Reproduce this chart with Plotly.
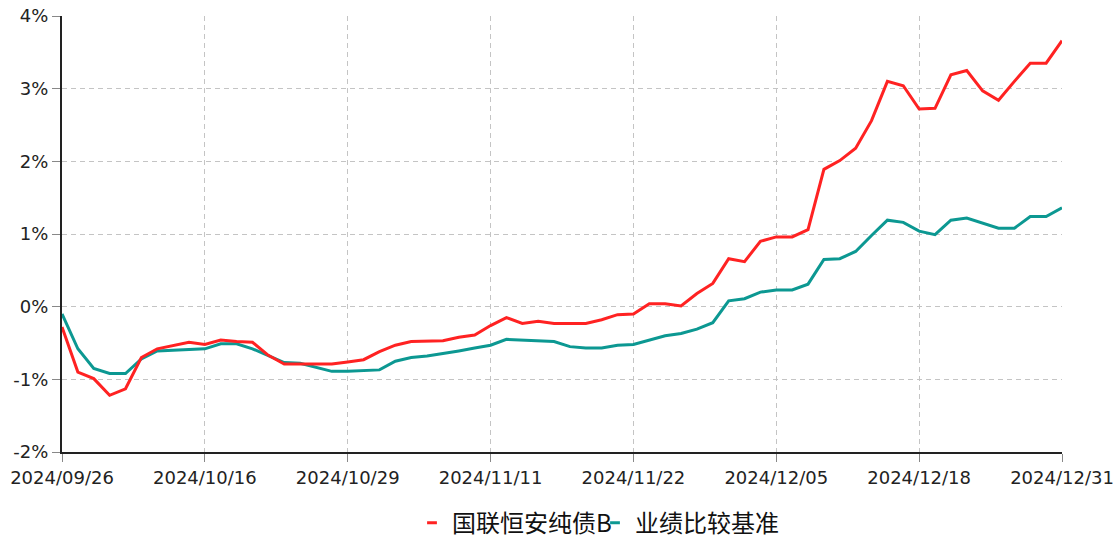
import plotly.graph_objects as go

dates = [
    "2024/09/26", "2024/09/27", "2024/09/30", "2024/10/08", "2024/10/09", "2024/10/10",
    "2024/10/11", "2024/10/14", "2024/10/15", "2024/10/16", "2024/10/17", "2024/10/18",
    "2024/10/21", "2024/10/22", "2024/10/23", "2024/10/24", "2024/10/25", "2024/10/28",
    "2024/10/29", "2024/10/30", "2024/10/31", "2024/11/01", "2024/11/04", "2024/11/05",
    "2024/11/06", "2024/11/07", "2024/11/08", "2024/11/11", "2024/11/12", "2024/11/13",
    "2024/11/14", "2024/11/15", "2024/11/18", "2024/11/19", "2024/11/20", "2024/11/21",
    "2024/11/22", "2024/11/25", "2024/11/26", "2024/11/27", "2024/11/28", "2024/11/29",
    "2024/12/02", "2024/12/03", "2024/12/04", "2024/12/05", "2024/12/06", "2024/12/09",
    "2024/12/10", "2024/12/11", "2024/12/12", "2024/12/13", "2024/12/16", "2024/12/17",
    "2024/12/18", "2024/12/19", "2024/12/20", "2024/12/23", "2024/12/24", "2024/12/25",
    "2024/12/26", "2024/12/27", "2024/12/30", "2024/12/31",
]

fund_name = "国联恒安纯债B"
bench_name = "业绩比较基准"

fund = [
    -0.28, -0.90, -0.99, -1.22, -1.13, -0.70, -0.58, -0.54, -0.49, -0.52,
    -0.46, -0.48, -0.49, -0.67, -0.79, -0.79, -0.79, -0.79, -0.76, -0.73,
    -0.62, -0.53, -0.48, -0.47, -0.47, -0.42, -0.39, -0.26, -0.15, -0.23,
    -0.20, -0.23, -0.23, -0.23, -0.18, -0.11, -0.10, 0.04, 0.04, 0.01,
    0.18, 0.32, 0.66, 0.62, 0.90, 0.96, 0.96, 1.06, 1.89, 2.01,
    2.18, 2.56, 3.10, 3.04, 2.72, 2.73, 3.19, 3.25, 2.97, 2.84,
    3.10, 3.35, 3.35, 3.66,
]

bench = [
    -0.10, -0.58, -0.85, -0.92, -0.92, -0.72, -0.61, -0.60, -0.60, -0.58,
    -0.51, -0.51, -0.58, -0.67, -0.77, -0.78, -0.83, -0.89, -0.89, -0.88,
    -0.87, -0.75, -0.70, -0.68, -0.65, -0.61, -0.57, -0.53, -0.45, -0.46,
    -0.47, -0.48, -0.55, -0.57, -0.57, -0.53, -0.52, -0.46, -0.40, -0.37,
    -0.31, -0.22, 0.08, 0.11, 0.20, 0.23, 0.23, 0.31, 0.65, 0.66,
    0.76, 0.98, 1.19, 1.16, 1.04, 0.99, 1.19, 1.22, 1.15, 1.08,
    1.08, 1.24, 1.24, 1.36,
]

tick_dates = ["2024/09/26", "2024/10/16", "2024/10/29", "2024/11/11",
              "2024/11/22", "2024/12/05", "2024/12/18", "2024/12/31"]
y_ticks = [-2, -1, 0, 1, 2, 3, 4]

RED = "#ff2222"
TEAL = "#0c9892"

fig = go.Figure()
fig.add_trace(go.Scatter(x=dates, y=bench, mode="lines", name=bench_name,
                         line=dict(color=TEAL, width=3), showlegend=False))
fig.add_trace(go.Scatter(x=dates, y=fund, mode="lines", name=fund_name,
                         line=dict(color=RED, width=3), showlegend=False))
# legend entries (small dash markers like the reference)
fig.add_trace(go.Scatter(x=[None], y=[None], mode="markers", name=fund_name,
                         legend="legend",
                         marker=dict(symbol="line-ew-open", size=7, color=RED,
                                     line=dict(color=RED, width=3))))
fig.add_trace(go.Scatter(x=[None], y=[None], mode="markers", name=bench_name,
                         legend="legend2",
                         marker=dict(symbol="line-ew-open", size=7, color=TEAL,
                                     line=dict(color=TEAL, width=3))))

legend_font = dict(family="Noto Sans CJK SC", size=24, color="#111111")

fig.update_layout(
    width=1119, height=548,
    margin=dict(l=62, r=57, t=16, b=96, autoexpand=False),
    paper_bgcolor="white", plot_bgcolor="white",
    font=dict(family="DejaVu Sans", size=18, color="#222222"),
    legend=dict(orientation="h", x=0.35, xanchor="left", y=-0.163, yanchor="middle",
                font=legend_font, itemwidth=30, bgcolor="rgba(0,0,0,0)"),
    legend2=dict(orientation="h", x=0.533, xanchor="left", y=-0.163, yanchor="middle",
                 font=legend_font, itemwidth=30, bgcolor="rgba(0,0,0,0)"),
)

fig.update_xaxes(
    type="category", categoryorder="array", categoryarray=dates,
    range=[0, len(dates) - 1], automargin=False, ticklabeloverflow="allow",
    tickmode="array", tickvals=tick_dates, ticktext=tick_dates,
    showgrid=True, gridcolor="#c4c4c4", griddash="5px,4px", gridwidth=1,
    showline=True, linecolor="#222222", linewidth=2,
    ticks="outside", ticklen=8, tickcolor="#888888", tickwidth=1,
    tickfont=dict(family="DejaVu Sans", size=18, color="#222222"),
    zeroline=False,
)
fig.update_yaxes(
    range=[-2, 4], tickmode="array", tickvals=y_ticks, automargin=False,
    ticklabeloverflow="allow",
    ticktext=[f"{v}%" for v in y_ticks],
    showgrid=True, gridcolor="#c4c4c4", griddash="5px,4px", gridwidth=1,
    showline=True, linecolor="#222222", linewidth=2,
    ticks="outside", ticklen=8, tickcolor="#888888", tickwidth=1,
    tickfont=dict(family="DejaVu Sans", size=18, color="#222222"),
    zeroline=False,
)

# remove the default 8px page margin so the figure fills the window exactly
fig.write_html("out.html", config={"displayModeBar": False},
               post_script="document.body.style.margin='0';")
